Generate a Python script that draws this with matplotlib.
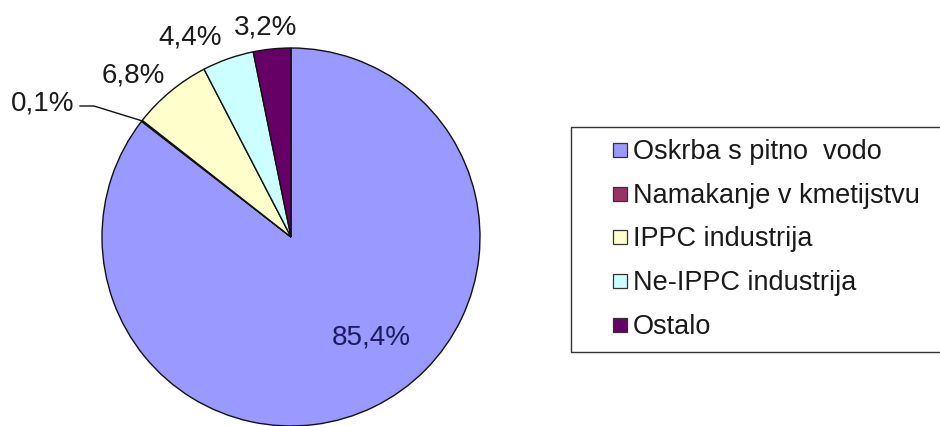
import matplotlib.pyplot as plt
import numpy as np
from matplotlib.lines import Line2D

plt.rcParams['font.family'] = ['Liberation Sans', 'DejaVu Sans']

categories = ['Oskrba s pitno  vodo', 'Namakanje v kmetijstvu', 'IPPC industrija',
              'Ne-IPPC industrija', 'Ostalo']
shares = [85.4, 0.1, 6.8, 4.4, 3.2]
pct_labels = ['85,4%', '0,1%', '6,8%', '4,4%', '3,2%']
colors = ['#9999FF', '#993366', '#FFFFCC', '#CCFFFF', '#660066']

# layout (pixels, y measured from the top of the image)
W, H = 940, 426
center = (291, 237)
radius = 189
label_pos = {0: (371, 338), 1: (43, 103), 2: (133, 76), 3: (190, 37), 4: (266, 28)}

fig = plt.figure(figsize=(W / 100, H / 100), dpi=100)
ax = fig.add_axes([0, 0, 1, 1])

cx, cy = center[0], H - center[1]
wedges, _ = ax.pie(shares, colors=colors, startangle=90, counterclock=False,
                   center=(cx, cy), radius=radius, frame=True,
                   wedgeprops=dict(edgecolor='#111111', linewidth=1.0))
ax.set_xlim(0, W)
ax.set_ylim(0, H)
ax.set_aspect('equal')
ax.axis('off')

for i, txt in enumerate(pct_labels):
    x, y = label_pos[i]
    col = '#1c1c5c' if i == 0 else '#1a1a1a'
    ax.text(x, H - y, txt, ha='center', va='center', fontsize=20, color=col)

# leader line for the tiny slice
w = wedges[1]
mid = np.deg2rad((w.theta1 + w.theta2) / 2)
px, py = cx + radius * np.cos(mid), cy + radius * np.sin(mid)
ax.plot([80, 94, px], [H - 106, H - 106, py], color='#111111', linewidth=1.0)

handles = [Line2D([], [], linestyle='none', marker='s', markersize=9.5,
                  markerfacecolor=c, markeredgecolor='#333333', markeredgewidth=0.9)
           for c in colors]
box_left, box_top, box_bottom, box_right = 571, 127, 352, 965
leg = fig.legend(handles, categories, loc='upper left',
                 bbox_to_anchor=(box_left / W, 1 - box_bottom / H,
                                 (box_right - box_left) / W, (box_bottom - box_top) / H),
                 mode='expand', fontsize=19.5, frameon=True, fancybox=False,
                 edgecolor='black', handlelength=2.73, handleheight=0.6,
                 handletextpad=-0.89, labelspacing=0.655, borderpad=0.443,
                 borderaxespad=0)
leg.get_frame().set_linewidth(1.0)
for t in leg.get_texts():
    t.set_color('#1a1a1a')

fig.savefig('out.png', dpi=100, facecolor='white')
